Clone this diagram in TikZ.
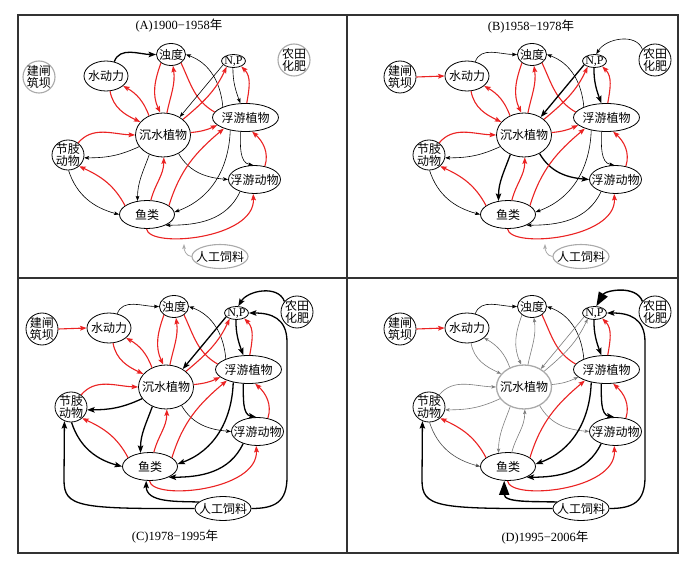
\documentclass[tikz,border=0pt]{standalone}
\usepackage{fontspec}
\setmainfont{Liberation Serif}
\newfontfamily\cjk{Noto Sans CJK SC}
\usetikzlibrary{shapes.geometric,arrows.meta}
\definecolor{myred}{RGB}{235,35,35}
\definecolor{lgray}{RGB}{170,170,170}
\definecolor{egray}{RGB}{125,125,125}
\definecolor{framec}{RGB}{50,50,50}

\newcommand\pnodes[5]{%
  \node[circ,#2] (#1jz) at (39,77) {};
  \node[txt,align=center] (#1jzt) at (#1jz) {建闸\\筑坝};
  \node[ell,minimum width=44pt,minimum height=30pt] (#1sdl) at (106,76) {};
  \node[txt] (#1sdlt) at (#1sdl) {水动力};
  \node[ell,minimum width=29pt,minimum height=22pt] (#1zd) at (171,54.5) {};
  \node[txt] (#1zdt) at (#1zd) {浊度};
  \node[ell,minimum width=24pt,minimum height=13pt] (#1np) at (233.5,61) {};
  \node[lat] (#1npt) at (#1np) {N,P};
  \node[circ,#3] (#1nt) at (294,60) {};
  \node[txt,align=center] (#1ntt) at (#1nt) {农田\\化肥};
  \node[ell,minimum width=55pt,minimum height=44pt,#5] (#1cs) at (163,135) {};
  \node[txt] (#1cst) at (#1cs) {沉水植物};
  \node[ell,minimum width=66pt,minimum height=28pt] (#1fz) at (245.5,117.5) {};
  \node[txt] (#1fzt) at (#1fz) {浮游植物};
  \node[ell,minimum width=32pt,minimum height=30pt] (#1jd) at (68,155) {};
  \node[txt,align=center] (#1jdt) at (#1jd) {节肢\\动物};
  \node[ell,minimum width=52pt,minimum height=28pt] (#1fd) at (254.5,179.5) {};
  \node[txt] (#1fdt) at (#1fd) {浮游动物};
  \node[ell,minimum width=55pt,minimum height=28pt] (#1yl) at (147,214.5) {};
  \node[txt] (#1ylt) at (#1yl) {鱼类};
  \node[ell,minimum width=56pt,minimum height=24pt,#4] (#1rg) at (220,256.5) {};
  \node[txt] (#1rgt) at (#1rg) {人工饲料};
}

\newcommand\commonedges[1]{%
  \draw[ed1] (#1sdl.60) to[out=70,in=180] (#1zd.west);
  \draw[ed2] (#1sdl.-75) to[out=-80,in=155] (#1cs.150);
  \draw[ed3] (#1cs.126) to[out=110,in=-30] (#1sdl.-30);
  \draw[ed4] (#1zd.-140) to[out=-110,in=115] (#1cs.97);
  \draw[ed5] (#1cs.80) to[out=78,in=-82] (#1zd.-80);
  \draw[ed6] (#1zd.-40) to[out=-65,in=150] (#1fz.170);
  \draw[ed7] (#1fz.155) to[out=95,in=-20] (#1zd.east);
  \draw[ed8] (#1np.200) -- (#1cs.47);
  \draw[ed9] (#1cs.38) to[out=40,in=-115] (#1np.-140);
  \draw[ed10] (#1np.-95) to[out=-90,in=110] (#1fz.110);
  \draw[ed11] (#1fz.85) to[out=80,in=-45] (#1np.-35);
  \draw[ed12] (#1cs.5) to[bend right=10] (#1fz.195);
  \draw[ed13] (#1jd.50) to[out=50,in=178] (#1cs.west);
  \draw[ed14] (#1cs.206) to[out=205,in=0] (#1jd.-10);
  \draw[ed15] (#1cs.-125) to[out=-110,in=90] (#1yl.125);
  \draw[ed16] (#1yl.75) to[out=75,in=-90] (#1cs.-88);
  \draw[ed17] (#1cs.-50) to[out=-60,in=175] (#1fd.west);
  \draw[ed18] (#1yl.158) to[out=118,in=-25] (#1jd.-45);
  \draw[ed19] (#1jd.-88) to[out=-72,in=165] (#1yl.west);
  \draw[ed20] (#1yl.22) to[out=73,in=220] (#1fz.207);
  \draw[ed21] (#1fz.-140) to[out=-92,in=20] (#1yl.5);
  \draw[ed22] (#1fz.-110) to[out=-90,in=170] (#1fd.95);
  \draw[ed23] (#1fd.52) to[out=72,in=-42] (#1fz.-65);
  \draw[ed24] (#1fd.-140) to[out=-115,in=0] (#1yl.-30);
  \draw[ed25] (#1yl.-92) .. controls +(3,20) and +(2,45) .. (#1fd.-95);
}

\begin{document}
\begin{tikzpicture}[x=1pt,y=-1pt,
  ell/.style={ellipse,draw=black,line width=0.8pt,inner sep=0pt},
  circ/.style={circle,draw=black,line width=0.8pt,inner sep=0pt,minimum size=32pt},
  lgr/.style={draw=lgray,line width=1.1pt},
  txt/.style={font=\cjk\fontsize{12}{12.5}\selectfont,inner sep=0pt},
  lat/.style={font=\fontsize{12}{13}\selectfont,inner sep=0pt},
  ttl/.style={font=\fontsize{12.5}{14}\selectfont,inner sep=0pt},
  tn/.style={draw=black,line width=0.6pt,-{Stealth[length=5pt,width=3.6pt,inset=1pt]}},
  tk/.style={draw=black,line width=1.3pt,-{Stealth[length=7.5pt,width=5.5pt,inset=1.5pt]}},
  rd/.style={draw=myred,line width=1.1pt,-{Stealth[length=6.5pt,width=4.8pt,inset=1.2pt]}},
  rdn/.style={draw=myred,line width=1.1pt},
  gy/.style={draw=egray,line width=0.6pt,-{Stealth[length=4.5pt,width=3.4pt,inset=1pt]}},
  dg/.style={draw=black!70,line width=0.6pt,-{Stealth[length=4.5pt,width=3.4pt,inset=1pt]}},
  hg/.style={draw=black,line width=1.4pt,-{Triangle[length=14pt,width=10pt]}},
  ga/.style={draw=lgray,line width=0.8pt,-{Stealth[length=5pt,width=3.6pt,inset=1pt]}},
  ed1/.style={tk}, ed2/.style={rd}, ed3/.style={rd}, ed4/.style={rd}, ed5/.style={rd},
  ed6/.style={rdn}, ed7/.style={tn}, ed8/.style={tn}, ed9/.style={rd}, ed10/.style={tn},
  ed11/.style={rd}, ed12/.style={rd}, ed13/.style={rd}, ed14/.style={tn}, ed15/.style={tn},
  ed16/.style={rd}, ed17/.style={tn}, ed18/.style={rd}, ed19/.style={tn}, ed20/.style={rd},
  ed21/.style={tn}, ed22/.style={tn}, ed23/.style={rd}, ed24/.style={tn}, ed25/.style={rd}
]
\useasboundingbox (0,0) rectangle (694,564);
\fill[white] (0,0) rectangle (694,564);
\draw[framec,line width=1.2pt] (18,15) rectangle (678,553);
\draw[framec,line width=1.2pt] (347,15) -- (347,553);
\draw[framec,line width=1.2pt] (18,278) -- (678,278);

\node[ttl] (tA) at (179,26) {(A)1900−1958{\cjk 年}};
\node[ttl] (tB) at (531,27) {(B)1958−1978{\cjk 年}};
\node[ttl] (tC) at (175,537) {(C)1978−1995{\cjk 年}};
\node[ttl] (tD) at (545,538) {(D)1995−2006{\cjk 年}};

% Panel A
\begin{scope}
  \pnodes{A}{lgr}{lgr}{lgr}{}
  \commonedges{A}
  \coordinate (Atip) at (184,244);
  \draw[ga] (Arg.west) to[out=175,in=-90] (Atip);
\end{scope}

% Panel B
\begin{scope}[shift={(361,0)},
  ed1/.style={tn}, ed8/.style={tk}, ed10/.style={tk}, ed15/.style={tk}, ed17/.style={tk}]
  \pnodes{B}{}{}{lgr}{}
  \commonedges{B}
  \draw[rd] (Bjz.east) -- (Bsdl.west);
  \draw[tn] (Bnt.140) to[out=110,in=60] (Bnp.75);
  \coordinate (Btip) at (184,244);
  \draw[ga] (Brg.west) to[out=175,in=-90] (Btip);
\end{scope}

% Panel C
\begin{scope}[shift={(3,252)},
  ed1/.style={tn}, ed8/.style={tk}, ed10/.style={tk}, ed14/.style={tk}, ed15/.style={tk},
  ed19/.style={tk}, ed21/.style={tk}, ed22/.style={tk}, ed24/.style={tk}]
  \pnodes{C}{}{}{}{}
  \commonedges{C}
  \draw[rd] (Cjz.east) -- (Csdl.west);
  \draw[tk] (Cnt.140) to[out=110,in=60] (Cnp.75);
  \draw[tk] (Crg.165) to[out=178,in=-90] (Cyl.-105);
  \draw[tk] (Crg.west) .. controls (75,257) and (61,255) .. (61,228) -- (Cjd.-115);
  \draw[tk] (Crg.east) .. controls (272,256.5) and (284,250) .. (284,225) -- (284,90) .. controls (284,66) and (268,61) .. (Cnp.east);
\end{scope}

% Panel D
\begin{scope}[shift={(361,252)},
  ed1/.style={tn}, ed2/.style={gy}, ed3/.style={gy}, ed4/.style={gy}, ed5/.style={gy},
  ed8/.style={gy}, ed9/.style={gy}, ed10/.style={tk}, ed12/.style={gy}, ed13/.style={gy},
  ed14/.style={gy}, ed15/.style={gy}, ed16/.style={gy}, ed17/.style={gy}, ed19/.style={dg},
  ed21/.style={tk}, ed22/.style={tk}, ed24/.style={tk}]
  \pnodes{D}{}{}{}{draw=lgray,line width=1.3pt}
  \commonedges{D}
  \draw[rd] (Djz.east) -- (Dsdl.west);
  \draw[hg] (Dnt.140) to[out=110,in=60] (Dnp.75);
  \draw[hg] (Drg.165) to[out=178,in=-90] (Dyl.-105);
  \draw[tk] (Drg.west) .. controls (75,257) and (61,255) .. (61,228) -- (Djd.-115);
  \draw[tk] (Drg.east) .. controls (272,256.5) and (284,250) .. (284,225) -- (284,90) .. controls (284,66) and (268,61) .. (Dnp.east);
\end{scope}
\end{tikzpicture}
\end{document}
